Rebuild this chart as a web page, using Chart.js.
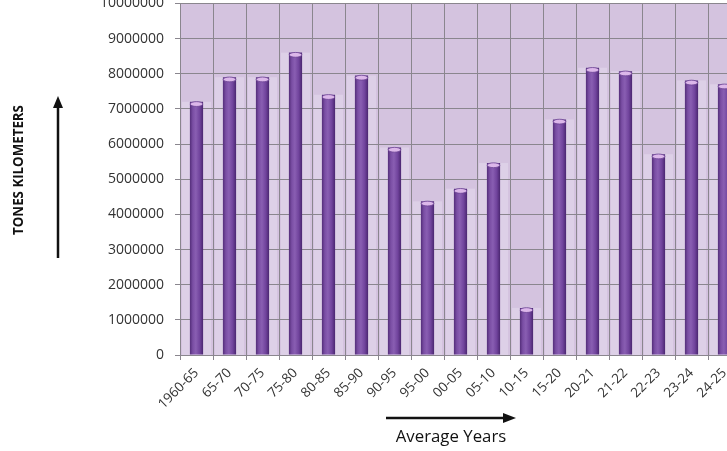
<!DOCTYPE html>
<html>
<head>
<meta charset="utf-8">
<script src="https://cdn.jsdelivr.net/npm/chart.js@4/dist/chart.umd.min.js"></script>
<style>
  html, body { margin: 0; padding: 0; background: #ffffff; overflow: hidden; width: 727px; height: 451px; }
  #wrap { position: absolute; left: 0; top: -16px; width: 745px; height: 467px; }
</style>
</head>
<body>
<div id="wrap"><canvas id="c" width="745" height="467"></canvas></div>
<script>
// Freight traffic per period (tonne-kilometres)
const periods = ['1960-65', '65-70', '70-75', '75-80', '80-85', '85-90', '90-95', '95-00',
                 '00-05', '05-10', '10-15', '15-20', '20-21', '21-22', '22-23', '23-24', '24-25'];
const tonKm = [7200000, 7900000, 7900000, 8600000, 7400000, 7950000, 5900000, 4370000,
               4730000, 5460000, 1340000, 6700000, 8170000, 8070000, 5710000, 7810000, 7700000];
const yMin = 0;
const yMax = 10000000;
const yStep = 1000000;

const FONT = '"Open Sans", Lato, "DejaVu Sans", sans-serif';
const GRID = '#8a868e';
const PLOT_BG = '#d4c3df';
const BAND = '#ddd0e7';
const Y_OFF = 16; // canvas is shifted up by this many px

// Cylinder-style horizontal gradient for each column
function columnFill(ctx) {
  const chart = ctx.chart;
  const xs = chart.scales.x;
  if (!chart.chartArea || !xs) return '#7a4ea3';
  const cx = xs.getPixelForValue(ctx.dataIndex);
  const w = xs.width / periods.length * 0.4;
  const g = chart.ctx.createLinearGradient(cx - w / 2, 0, cx + w / 2, 0);
  g.addColorStop(0, '#532d79');
  g.addColorStop(0.22, '#7a4ea4');
  g.addColorStop(0.45, '#895eb2');
  g.addColorStop(0.75, '#70439c');
  g.addColorStop(1, '#4a2670');
  return g;
}

// Plot background plus the pale strip behind every column
const plotBackdrop = {
  id: 'plotBackdrop',
  beforeDraw(chart) {
    const { ctx, chartArea: a, scales } = chart;
    ctx.save();
    ctx.fillStyle = PLOT_BG;
    ctx.fillRect(a.left, a.top, a.right - a.left, a.bottom - a.top);
    const cw = scales.x.width / periods.length;
    ctx.fillStyle = BAND;
    tonKm.forEach((v, i) => {
      const cx = scales.x.getPixelForValue(i);
      const top = scales.y.getPixelForValue(v);
      ctx.fillRect(cx - cw / 2 + 2, top, cw - 4, scales.y.getPixelForValue(0) - top);
    });
    ctx.restore();
  }
};

// Light elliptical cap on top of each column
const columnCaps = {
  id: 'columnCaps',
  afterDatasetsDraw(chart) {
    const ctx = chart.ctx;
    const meta = chart.getDatasetMeta(0);
    ctx.save();
    meta.data.forEach(el => {
      const rx = el.width / 2;
      ctx.beginPath();
      ctx.ellipse(el.x, el.y + 2.2, rx - 0.3, 2.4, 0, 0, Math.PI * 2);
      ctx.fillStyle = '#dcb7ea';
      ctx.fill();
      ctx.lineWidth = 0.8;
      ctx.strokeStyle = '#6b4293';
      ctx.stroke();
    });
    ctx.restore();
  }
};

// Axis captions with their direction arrows
const axisCaptions = {
  id: 'axisCaptions',
  afterDraw(chart) {
    const ctx = chart.ctx;
    ctx.save();
    ctx.fillStyle = '#111111';
    ctx.strokeStyle = '#111111';

    // vertical caption
    ctx.save();
    ctx.translate(19, 170 + Y_OFF);
    ctx.rotate(-Math.PI / 2);
    ctx.font = 'bold 13.3px ' + FONT;
    ctx.textAlign = 'center';
    ctx.textBaseline = 'middle';
    ctx.fillText('TONES KILOMETERS', 0, 0);
    ctx.restore();

    // upward arrow
    ctx.lineWidth = 2.5;
    ctx.beginPath();
    ctx.moveTo(58, 258 + Y_OFF);
    ctx.lineTo(58, 106 + Y_OFF);
    ctx.stroke();
    ctx.beginPath();
    ctx.moveTo(58, 96 + Y_OFF);
    ctx.lineTo(53, 108 + Y_OFF);
    ctx.lineTo(63, 108 + Y_OFF);
    ctx.closePath();
    ctx.fill();

    // rightward arrow
    ctx.beginPath();
    ctx.moveTo(386, 418 + Y_OFF);
    ctx.lineTo(505, 418 + Y_OFF);
    ctx.stroke();
    ctx.beginPath();
    ctx.moveTo(516, 418 + Y_OFF);
    ctx.lineTo(503, 413 + Y_OFF);
    ctx.lineTo(503, 423 + Y_OFF);
    ctx.closePath();
    ctx.fill();

    // horizontal caption
    ctx.font = '16.8px ' + FONT;
    ctx.textAlign = 'center';
    ctx.textBaseline = 'alphabetic';
    ctx.fillText('Average Years', 451, 442 + Y_OFF);
    ctx.restore();
  }
};

new Chart(document.getElementById('c'), {
  type: 'bar',
  data: {
    labels: periods,
    datasets: [{
      data: tonKm,
      backgroundColor: columnFill,
      borderWidth: 0,
      barPercentage: 0.4,
      categoryPercentage: 1.0
    }]
  },
  options: {
    responsive: false,
    animation: false,
    devicePixelRatio: 1,
    layout: { padding: { left: 0, right: 4, top: 0, bottom: 0 } },
    plugins: { legend: { display: false }, tooltip: { enabled: false } },
    scales: {
      x: {
        grid: { color: GRID, lineWidth: 1, offset: true, tickLength: 5, tickColor: GRID, drawOnChartArea: true },
        border: { color: GRID, width: 1 },
        ticks: {
          autoSkip: false, maxRotation: 45, minRotation: 45, padding: 5,
          color: '#333333', font: { family: FONT, size: 13.5 }
        },
        afterFit(s) { s.height = 96; }
      },
      y: {
        min: yMin, max: yMax,
        grid: { color: GRID, lineWidth: 1, tickLength: 5, tickColor: GRID },
        border: { color: GRID, width: 1 },
        ticks: {
          stepSize: yStep, padding: 11, color: '#333333',
          font: { family: FONT, size: 14 },
          callback: v => String(v)
        },
        afterFit(s) { s.width = 180; }
      }
    }
  },
  plugins: [plotBackdrop, columnCaps, axisCaptions]
});
</script>
</body>
</html>
